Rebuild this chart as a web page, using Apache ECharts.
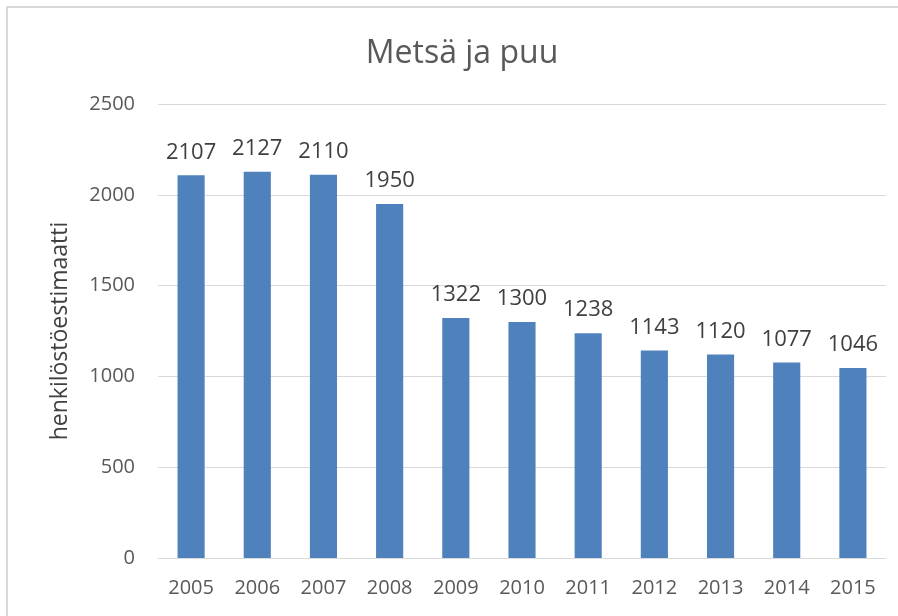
<!DOCTYPE html>
<html><head><meta charset="utf-8">
<script src="https://cdn.jsdelivr.net/npm/echarts@6/dist/echarts.min.js"></script>
<style>
html,body{margin:0;padding:0;background:#fff;}
#frame{position:absolute;left:6px;top:6px;width:900px;height:620px;border-left:2px solid #d9d9d9;border-top:2px solid #d9d9d9;}
#c{position:absolute;left:0;top:0;width:898px;height:616px;}
</style></head>
<body>
<div id="frame"></div>
<div id="c"></div>
<script>
const categories = ['2005','2006','2007','2008','2009','2010','2011','2012','2013','2014','2015'];
const values = [2107,2127,2110,1950,1322,1300,1238,1143,1120,1077,1046];
const yTicks = [0,500,1000,1500,2000,2500];
const chart = echarts.init(document.getElementById('c'));
const font = '"Open Sans", "Noto Sans", sans-serif';
chart.setOption({
  animation:false,
  title:{text:'Metsä ja puu',left:457,top:33,textAlign:'center',textStyle:{fontFamily:font,fontSize:32,fontWeight:'normal',color:'#595959'}},
  grid:{left:158,right:12,top:104,bottom:58},
  xAxis:{type:'category',data:categories,axisTick:{show:false},axisLine:{lineStyle:{color:'#d9d9d9',width:1}},
    axisLabel:{color:'#595959',fontSize:20,fontFamily:font,margin:20}},
  yAxis:{type:'value',min:yTicks[0],max:yTicks[yTicks.length-1],interval:500,
    name:'henkilöstöestimaatti',nameLocation:'middle',nameGap:86,nameRotate:90,
    nameTextStyle:{color:'#404040',fontSize:23,fontFamily:font},
    axisLabel:{color:'#595959',fontSize:20,fontFamily:font,margin:23,formatter:v=>String(v)},
    splitLine:{lineStyle:{color:'#d9d9d9',width:1}},axisLine:{show:false},axisTick:{show:false}},
  series:[{type:'bar',data:values,barWidth:'41%',itemStyle:{color:'#4f81bd'},
    label:{show:true,position:'top',distance:12,color:'#404040',fontSize:22,fontFamily:font}}]
});
</script>
</body></html>
